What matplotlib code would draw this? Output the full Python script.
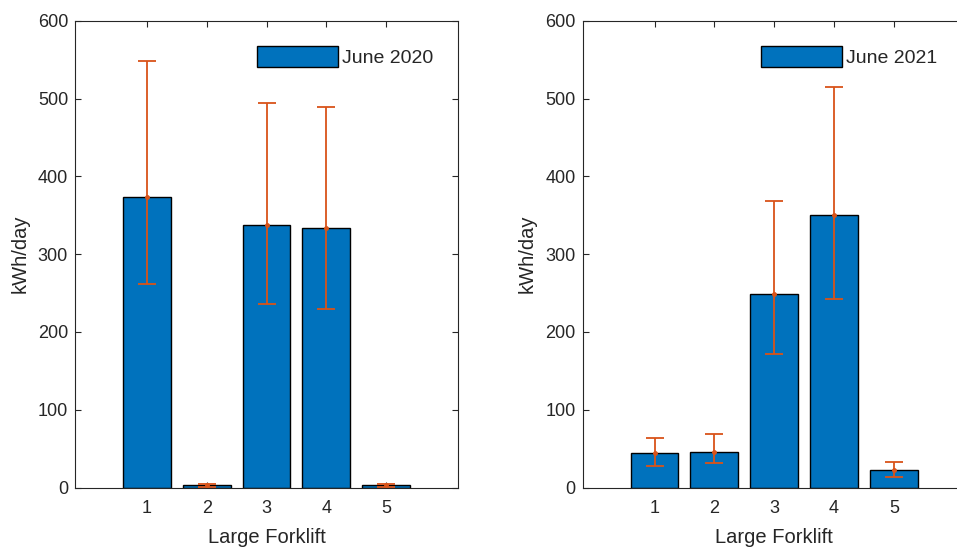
import matplotlib
matplotlib.use("Agg")
import matplotlib.pyplot as plt

plt.rcParams['font.family'] = ['Liberation Sans', 'DejaVu Sans']

forklifts = [1, 2, 3, 4, 5]

# June 2020
mean_2020 = [374, 3, 338, 333, 3]
low_2020 = [261, 1, 236, 230, 1]
high_2020 = [548, 5, 494, 489, 5]

# June 2021
mean_2021 = [44, 46, 249, 350, 22]
low_2021 = [28, 31, 172, 242, 14]
high_2021 = [64, 69, 368, 515, 33]

bar_color = '#0072BD'
err_color = '#D95319'
text_color = '#262626'

fig = plt.figure(figsize=(9.57, 5.5), dpi=100)
ax1 = fig.add_axes([0.0784, 0.1136, 0.4002, 0.8487])
ax2 = fig.add_axes([0.6089, 0.1136, 0.4002, 0.8487])


def draw(ax, means, lows, highs, label, leg_x):
    ax.bar(forklifts, means, width=0.8, color=bar_color, edgecolor='black',
           linewidth=1.0, label=label, zorder=2)
    yerr = [[m - l for m, l in zip(means, lows)],
            [h - m for m, h in zip(means, highs)]]
    ax.errorbar(forklifts, means, yerr=yerr, fmt='.', color=err_color,
                ecolor=err_color, elinewidth=1.3, capsize=6.5, capthick=1.3,
                markersize=5, zorder=3)
    ax.set_xlim(-0.2, 6.2)
    ax.set_ylim(0, 600)
    ax.set_xticks(forklifts)
    ax.set_yticks(range(0, 601, 100))
    ax.tick_params(direction='in', top=True, right=True, length=4,
                   labelsize=13, colors=text_color, width=0.8)
    ax.tick_params(axis='x', pad=9)
    ax.tick_params(axis='y', pad=5)
    for s in ax.spines.values():
        s.set_color(text_color)
        s.set_linewidth(0.8)
    ax.set_xlabel('Large Forklift', fontsize=14.5, color=text_color, labelpad=8)
    ax.set_ylabel('kWh/day', fontsize=14.5, color=text_color, labelpad=6)
    ax.legend(loc='upper right', bbox_to_anchor=(leg_x, 0.945), frameon=False,
              fontsize=14, handlelength=4.17, handleheight=1.25,
              handletextpad=0.2, borderpad=0, borderaxespad=0,
              labelcolor=text_color)


draw(ax1, mean_2020, low_2020, high_2020, 'June 2020', 0.935)
draw(ax2, mean_2021, low_2021, high_2021, 'June 2021', 0.925)

fig.savefig('out.png', dpi=100)
